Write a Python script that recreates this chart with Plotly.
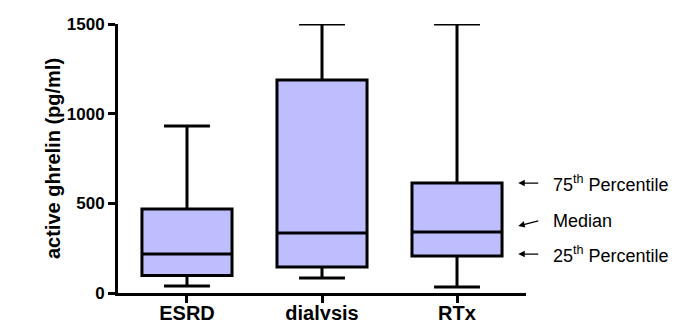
import plotly.graph_objects as go

categories = ["ESRD", "dialysis", "RTx"]
lower_whisker = [39, 84, 33]
q1_values = [98, 145, 206]
median_values = [218, 335, 340]
q3_values = [468, 1188, 613]
upper_whisker = [931, 1500, 1500]

y_ticks = [0, 500, 1000, 1500]

FONT = "Liberation Sans, Arial, Helvetica, sans-serif"

fig = go.Figure()
fig.add_trace(go.Box(
    x=categories,
    lowerfence=lower_whisker,
    q1=q1_values,
    median=median_values,
    q3=q3_values,
    upperfence=upper_whisker,
    boxpoints=False,
    width=0.667,
    whiskerwidth=0.51,
    fillcolor="#BEBEFF",
    line=dict(color="black", width=3),
    hoverinfo="skip",
))

# page body has an 8px margin, so the figure is sized/offset to compensate
fig.update_layout(
    width=684, height=312,
    margin=dict(l=110, r=166, t=16, b=27, autoexpand=False),
    paper_bgcolor="white", plot_bgcolor="white",
    showlegend=False,
    font=dict(family=FONT, color="black"),
)
fig.update_xaxes(
    range=[-0.511, 2.511],
    automargin=False,
    showline=True, linecolor="black", linewidth=3,
    ticks="outside", ticklen=7, tickwidth=3, tickcolor="black",
    tickfont=dict(size=20, family=FONT, weight="bold"),
    ticklabelstandoff=-7,
    showgrid=False, zeroline=False,
)
fig.update_yaxes(
    range=[0, 1500],
    automargin=False,
    tickvals=y_ticks,
    ticktext=[str(v) for v in y_ticks],
    showline=True, linecolor="black", linewidth=3,
    ticks="outside", ticklen=7, tickwidth=3, tickcolor="black",
    tickfont=dict(size=17, family=FONT, weight="bold"),
    showgrid=False, zeroline=False,
    title=dict(text="active ghrelin (pg/ml)", font=dict(size=20, family=FONT, weight="bold"), standoff=1),
)

# legend-like annotations on the right: arrow pointing left, label at arrow tail
labels = ["75<sup>th</sup> Percentile", "Median", "25<sup>th</sup> Percentile"]
arrow_y = [613, 374, 217]
arrow_ay = [0, -5, 0]
for txt, ay_v, ay_off in zip(labels, arrow_y, arrow_ay):
    fig.add_annotation(
        xref="paper", yref="y", x=0.981, y=ay_v, text=txt, showarrow=True,
        ax=20, ay=ay_off, xanchor="left", yanchor="middle", borderpad=14,
        arrowhead=2, arrowsize=1, arrowwidth=1.3,
        arrowcolor="black", standoff=0, startstandoff=0,
        font=dict(size=18, family=FONT, color="black"),
    )

fig.write_html("out.html")
